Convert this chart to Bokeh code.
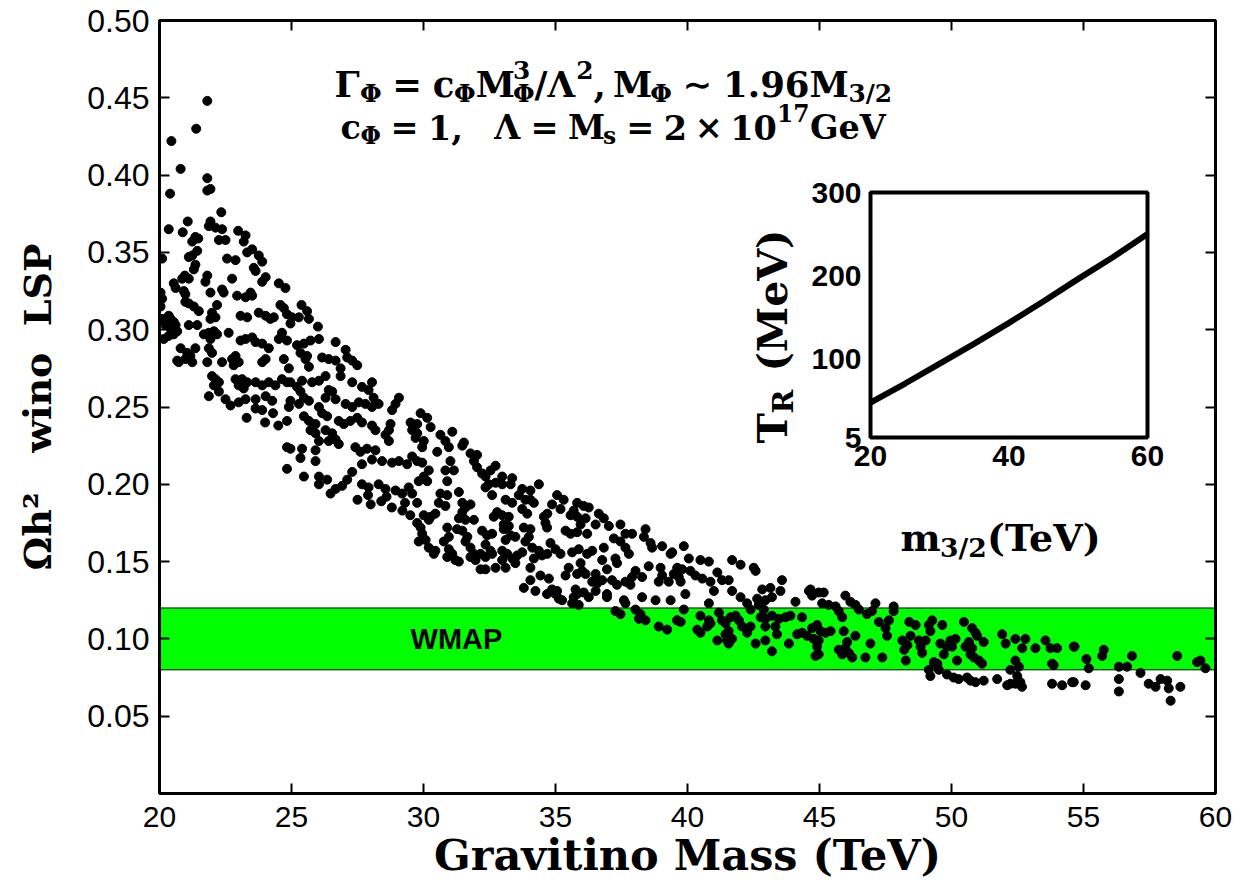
import math
from bokeh.plotting import figure
from bokeh.models import Range1d, LinearAxis, FixedTicker, CustomJSTickFormatter, NumeralTickFormatter, ColumnDataSource
from bokeh.core.properties import value, field
from bokeh.embed import file_html
from bokeh.resources import INLINE

# ---------------- data ----------------
seg_20_25 = [(21.81,0.448),(21.39,0.430),(20.45,0.422),(20.80,0.404),(21.81,0.398),(21.81,0.390),(21.93,0.391),(20.40,0.388),
 (22.34,0.376),(21.07,0.370),(21.93,0.370),(21.87,0.367),(22.12,0.366),(20.35,0.365),(20.88,0.363),(22.37,0.365),(22.98,0.364),
 (23.26,0.361),(21.36,0.360),(21.47,0.359),(21.24,0.357),(22.25,0.358),(22.50,0.358),(23.19,0.357),(23.51,0.352),(23.32,0.350),
 (21.43,0.351),(21.24,0.348),(21.11,0.347),(20.10,0.346),(22.56,0.346),(22.88,0.345),(23.76,0.348),(23.89,0.344),(21.36,0.342),
 (21.30,0.339),(23.64,0.338),(23.57,0.340),(20.96,0.335),(21.11,0.333),(20.86,0.333),(21.81,0.335),(21.74,0.331),(22.75,0.333),
 (24.02,0.334),(23.89,0.331),(20.54,0.330),(20.61,0.327),(24.52,0.330),(24.77,0.327),(20.04,0.324),(20.10,0.320),(20.92,0.325),
 (20.98,0.323),(21.93,0.324),(22.37,0.326),(22.43,0.324),(23.45,0.324),(23.51,0.322),(23.26,0.321),(22.94,0.322),(20.98,0.318),
 (21.11,0.317),(21.30,0.315),(21.49,0.312),(22.18,0.316),(24.58,0.316),(24.71,0.314),(20.04,0.315),(20.10,0.307),(20.35,0.309),
 (20.42,0.307),(20.54,0.305),(20.61,0.303),(20.67,0.299),(20.54,0.297),(20.35,0.296),(20.42,0.301),(20.23,0.303),(20.16,0.294),
 (21.99,0.311),(21.93,0.307),(22.12,0.308),(23.07,0.309),(23.32,0.308),(23.76,0.311),(24.02,0.309),(24.20,0.307),(24.33,0.308),
 (21.11,0.303),(21.43,0.303),(21.68,0.297),(21.87,0.298),(22.06,0.299),(22.18,0.297),(21.93,0.294),(22.62,0.298),(23.07,0.293),
 (23.26,0.294),(23.51,0.295),(23.64,0.292),(23.89,0.291),(24.14,0.288),(24.64,0.298),(24.52,0.294),(20.80,0.288),(21.05,0.285),
 (21.17,0.283),(20.98,0.281),(21.36,0.288),(21.87,0.288),(21.99,0.285),(20.67,0.280),(20.73,0.279),(21.24,0.279),(21.81,0.279),
 (22.37,0.279),(22.75,0.281),(22.88,0.283),(23.00,0.279),(22.81,0.277),(23.89,0.279),(24.02,0.281),(24.71,0.281),(21.99,0.270),
 (22.12,0.268),(22.25,0.266),(22.06,0.264),(22.88,0.268),(23.13,0.268),(23.32,0.266),(23.00,0.264),(23.19,0.262),(23.64,0.266),
 (23.89,0.264),(24.14,0.266),(24.39,0.264),(24.64,0.268),(24.83,0.266),(21.87,0.257),(22.25,0.260),(22.50,0.255),(22.69,0.251),
 (23.00,0.253),(23.26,0.255),(23.64,0.255),(24.02,0.257),(24.27,0.254),(23.64,0.249),(23.89,0.248),(23.30,0.243),(24.00,0.240),
 (24.50,0.238),(24.30,0.246)]

seg_25_30 = [(25.38,0.316),(25.59,0.312),(25.28,0.308),(25.66,0.307),(24.96,0.304),(24.83,0.310),(25.02,0.308),(26.00,0.302),
 (24.83,0.293),(25.21,0.290),(25.47,0.291),(25.72,0.293),(26.04,0.294),(25.34,0.285),(25.59,0.283),(25.53,0.281),(26.67,0.292),
 (26.16,0.282),(26.41,0.281),(26.67,0.280),(27.05,0.287),(27.11,0.282),(27.30,0.280),(27.49,0.277),(24.90,0.275),(25.66,0.276),
 (26.86,0.275),(26.86,0.270),(26.29,0.270),(26.04,0.267),(24.96,0.266),(25.21,0.263),(25.40,0.267),(25.78,0.266),(27.30,0.266),
 (28.05,0.266),(27.67,0.263),(26.41,0.261),(26.54,0.260),(26.29,0.256),(26.67,0.255),(25.34,0.260),(25.47,0.256),(24.96,0.254),
 (27.92,0.261),(28.11,0.256),(28.30,0.252),(29.07,0.256),(28.94,0.252),(28.81,0.248),(24.90,0.250),(25.28,0.252),(25.66,0.254),
 (26.04,0.250),(26.16,0.246),(27.05,0.252),(27.30,0.250),(27.55,0.253),(27.80,0.252),(28.05,0.250),(24.83,0.241),(25.47,0.244),
 (25.66,0.241),(25.91,0.239),(26.35,0.244),(26.79,0.241),(26.98,0.239),(27.23,0.241),(27.49,0.243),(27.67,0.240),(28.05,0.238),
 (28.18,0.235),(28.75,0.239),(28.69,0.235),(29.51,0.240),(29.57,0.235),(29.70,0.230),(25.72,0.235),(25.91,0.233),(26.04,0.228),
 (26.29,0.235),(26.54,0.233),(26.67,0.229),(26.79,0.226),(26.41,0.228),(28.56,0.232),(28.69,0.228),(24.83,0.224),(24.96,0.223),
 (25.40,0.223),(25.91,0.222),(25.34,0.217),(25.91,0.215),(27.42,0.224),(27.61,0.221),(27.86,0.223),(28.18,0.222),(29.57,0.218),
 (29.38,0.213),(29.76,0.215),(27.67,0.213),(28.05,0.216),(28.43,0.215),(28.81,0.214),(29.07,0.215),(24.83,0.210),(25.47,0.205),
 (26.04,0.205),(26.35,0.203),(26.04,0.200),(27.30,0.208),(27.11,0.203),(26.92,0.199),(26.67,0.197),(26.48,0.194),(27.67,0.200),
 (27.92,0.198),(28.30,0.200),(28.56,0.197),(28.94,0.196),(29.19,0.194),(29.44,0.198),(29.57,0.194),(27.50,0.190),(28.00,0.187),
 (28.40,0.189),(28.80,0.185),(29.20,0.183),(29.50,0.180),(29.30,0.188),(28.60,0.192),(27.90,0.193)]

seg_30_35 = [(29.89,0.246),(30.14,0.243),(30.27,0.237),(29.76,0.239),(30.64,0.232),(31.09,0.234),(30.83,0.228),(30.96,0.224),
 (31.53,0.227),(31.47,0.225),(29.76,0.233),(30.01,0.228),(29.95,0.224),(30.52,0.221),(31.02,0.215),(31.78,0.220),(32.03,0.219),
 (31.91,0.215),(32.03,0.211),(32.73,0.212),(32.54,0.209),(32.22,0.207),(32.35,0.205),(32.47,0.200),(32.35,0.198),(29.95,0.214),
 (30.20,0.209),(30.01,0.205),(29.82,0.202),(30.14,0.202),(30.83,0.209),(31.15,0.209),(30.90,0.202),(32.98,0.205),(33.36,0.204),
 (32.73,0.201),(32.98,0.200),(33.30,0.200),(34.37,0.200),(32.60,0.193),(33.74,0.197),(34.05,0.196),(33.61,0.193),(33.86,0.190),
 (34.05,0.190),(34.18,0.188),(33.11,0.190),(33.36,0.188),(29.76,0.188),(30.64,0.194),(30.90,0.193),(30.58,0.188),(30.83,0.186),
 (31.34,0.195),(31.47,0.188),(31.59,0.185),(31.78,0.187),(30.01,0.180),(30.27,0.179),(30.45,0.181),(30.20,0.177),(31.47,0.182),
 (31.34,0.178),(31.59,0.177),(31.91,0.177),(32.79,0.182),(32.66,0.179),(32.98,0.180),(33.23,0.179),(33.04,0.174),(33.74,0.184),
 (33.93,0.181),(34.56,0.179),(34.62,0.175),(29.76,0.175),(29.89,0.172),(29.95,0.168),(30.08,0.164),(29.82,0.163),(30.20,0.159),
 (30.39,0.155),(30.45,0.157),(30.90,0.172),(30.96,0.166),(30.77,0.163),(30.96,0.158),(31.09,0.155),(30.90,0.153),(31.21,0.151),
 (31.34,0.150),(31.27,0.171),(31.47,0.170),(31.66,0.166),(31.59,0.163),(31.78,0.159),(31.91,0.155),(31.78,0.153),(31.97,0.151),
 (32.22,0.170),(32.41,0.167),(32.60,0.168),(32.35,0.161),(32.54,0.157),(32.16,0.155),(32.35,0.153),(32.60,0.155),(33.04,0.171),
 (33.23,0.173),(33.30,0.167),(33.11,0.164),(33.48,0.166),(32.98,0.157),(33.17,0.155),(33.36,0.152),(33.55,0.154),(33.48,0.149),
 (32.98,0.151),(33.11,0.146),(32.73,0.146),(32.35,0.145),(32.16,0.145),(33.80,0.172),(34.05,0.171),(33.99,0.166),(33.86,0.163),
 (34.12,0.159),(33.74,0.156),(34.37,0.157),(34.49,0.154),(34.18,0.152),(34.05,0.146),(33.80,0.133),(34.05,0.138),(34.43,0.141),
 (34.24,0.131),(34.68,0.129),(34.68,0.172)]

seg_35_40 = [(35.06,0.193),(35.31,0.190),(34.87,0.187),(35.19,0.184),(34.69,0.181),(35.82,0.188),(36.07,0.186),(36.26,0.185),
 (35.69,0.183),(35.57,0.180),(35.82,0.179),(36.14,0.178),(35.95,0.174),(36.64,0.181),(36.83,0.178),(37.02,0.173),(37.46,0.174),
 (36.52,0.174),(35.57,0.168),(35.82,0.169),(36.20,0.168),(35.38,0.170),(38.41,0.171),(38.35,0.166),(37.65,0.168),(37.90,0.168),
 (37.21,0.165),(37.46,0.163),(37.65,0.159),(37.78,0.155),(34.81,0.162),(35.00,0.158),(35.19,0.155),(34.69,0.155),(35.63,0.156),
 (35.88,0.158),(36.20,0.155),(36.39,0.157),(36.83,0.159),(38.66,0.159),(38.60,0.162),(39.04,0.160),(39.36,0.155),(39.42,0.156),
 (36.77,0.151),(37.27,0.152),(37.33,0.149),(36.95,0.145),(36.52,0.142),(35.50,0.146),(35.95,0.149),(36.01,0.144),(35.82,0.142),
 (35.38,0.141),(36.14,0.142),(34.75,0.139),(34.87,0.132),(35.06,0.131),(35.13,0.126),(35.25,0.125),(35.00,0.129),(35.76,0.132),
 (35.82,0.129),(35.69,0.127),(36.07,0.130),(36.26,0.127),(35.63,0.123),(35.88,0.122),(36.39,0.137),(36.58,0.136),(36.52,0.131),
 (36.77,0.138),(36.95,0.129),(37.14,0.138),(37.33,0.135),(37.65,0.137),(37.84,0.135),(38.03,0.144),(38.28,0.140),(37.90,0.140),
 (38.53,0.147),(38.98,0.146),(39.04,0.141),(38.91,0.137),(39.29,0.137),(39.48,0.142),(36.95,0.127),(37.59,0.125),(38.28,0.127),
 (38.79,0.125),(39.36,0.125),(37.27,0.118),(37.46,0.116),(37.65,0.123),(38.03,0.119),(38.22,0.116),(38.41,0.112),(38.16,0.113),
 (38.91,0.108),(39.23,0.106),(39.61,0.112)]

seg_40_45 = [(39.86,0.160),(40.05,0.152),(40.49,0.151),(40.81,0.150),(39.61,0.146),(39.80,0.145),(40.11,0.144),(40.30,0.141),
 (40.56,0.139),(39.67,0.140),(39.74,0.137),(41.13,0.143),(40.87,0.137),(41.31,0.138),(41.56,0.138),(41.00,0.131),(41.69,0.131),
 (41.69,0.151),(42.01,0.148),(42.51,0.146),(42.58,0.144),(39.92,0.129),(42.01,0.127),(42.26,0.123),(42.64,0.126),(42.83,0.132),
 (43.14,0.133),(43.58,0.138),(43.52,0.131),(43.20,0.127),(42.95,0.125),(42.70,0.122),(42.89,0.119),(42.39,0.119),(44.09,0.124),
 (44.60,0.131),(40.81,0.123),(39.86,0.119),(39.61,0.112),(39.74,0.111),(40.49,0.115),(40.81,0.112),(40.75,0.108),(40.87,0.110),
 (41.19,0.117),(41.31,0.112),(41.63,0.114),(41.82,0.115),(41.95,0.112),(41.44,0.110),(41.56,0.105),(42.07,0.108),(42.26,0.104),
 (42.39,0.108),(40.37,0.106),(40.49,0.104),(41.44,0.103),(41.50,0.099),(41.69,0.100),(41.13,0.099),(41.56,0.097),(42.77,0.114),
 (42.95,0.113),(43.20,0.115),(43.46,0.113),(43.71,0.114),(43.90,0.115),(44.34,0.114),(42.58,0.097),(42.95,0.099),(43.20,0.092),
 (43.39,0.103),(43.84,0.097),(44.15,0.103),(44.34,0.104),(42.95,0.108),(43.33,0.108)]

seg_45_50 = [(44.66,0.132),(44.97,0.130),(45.16,0.130),(44.72,0.128),(45.98,0.128),(46.17,0.124),(46.36,0.122),(46.49,0.119),
 (47.12,0.123),(46.99,0.118),(46.80,0.116),(47.81,0.121),(47.81,0.118),(45.10,0.123),(45.35,0.122),(45.61,0.121),(45.73,0.118),
 (45.86,0.114),(44.91,0.109),(44.72,0.107),(45.04,0.105),(45.23,0.104),(45.42,0.105),(44.53,0.102),(44.78,0.100),(44.97,0.099),
 (44.91,0.095),(44.97,0.090),(44.85,0.089),(45.92,0.105),(46.36,0.102),(46.05,0.098),(45.98,0.094),(45.73,0.093),(46.11,0.091),
 (46.24,0.088),(45.86,0.090),(46.93,0.097),(46.74,0.088),(47.38,0.088),(47.25,0.111),(47.50,0.107),(47.56,0.102),(47.63,0.112),
 (48.14,0.099),(48.21,0.093),(48.33,0.096),(48.27,0.086),(48.40,0.111),(48.64,0.109),(48.45,0.102),(48.77,0.099),(48.83,0.095),
 (48.89,0.091),(49.02,0.099),(49.14,0.109),(49.27,0.112),(49.20,0.105),(49.14,0.080),(49.33,0.085),(49.20,0.076),(49.46,0.083)]

seg_50_55 = [(49.65,0.109),(50.47,0.111),(50.78,0.107),(50.91,0.104),(50.97,0.102),(49.58,0.097),(49.96,0.099),(50.15,0.100),
 (49.83,0.095),(50.02,0.095),(49.71,0.090),(49.46,0.084),(50.21,0.086),(50.66,0.098),(50.53,0.095),(50.78,0.094),(50.72,0.090),
 (50.85,0.088),(51.04,0.086),(51.16,0.084),(51.22,0.098),(51.92,0.103),(52.05,0.097),(52.42,0.100),(52.80,0.100),(52.68,0.094),
 (52.42,0.086),(52.55,0.082),(53.56,0.099),(53.75,0.094),(54.00,0.094),(53.18,0.094),(53.81,0.084),(53.87,0.083),(54.63,0.095),
 (49.52,0.080),(49.83,0.077),(50.08,0.075),(50.27,0.074),(50.59,0.075),(50.72,0.073),(50.91,0.072),(51.22,0.073),(51.73,0.074),
 (52.11,0.070),(52.23,0.071),(52.42,0.071),(52.61,0.072),(52.67,0.069),(53.81,0.071),(54.19,0.070),(54.57,0.072),(52.23,0.080),
 (52.49,0.076)]

seg_55_60 = [(54.66,0.095),(55.11,0.087),(55.20,0.081),(55.71,0.089),(55.77,0.093),(56.34,0.082),(56.65,0.082),(56.84,0.089),
 (57.16,0.078),(58.55,0.089),(59.30,0.085),(59.43,0.086),(59.62,0.081),(54.63,0.072),(55.08,0.070),(56.34,0.074),(56.34,0.066),
 (57.47,0.071),(57.73,0.069),(57.92,0.074),(58.17,0.073),(58.23,0.068),(58.30,0.060),(58.67,0.069)]

segments = [seg_20_25, seg_25_30, seg_30_35, seg_35_40, seg_40_45, seg_45_50, seg_50_55, seg_55_60]
gravitino_mass = [m for s in segments for m, _ in s]
omega_h2 = [o for s in segments for _, o in s]

wmap_low, wmap_high = 0.08, 0.12
x_ticks = [20, 25, 30, 35, 40, 45, 50, 55, 60]
y_ticks = [0.05, 0.10, 0.15, 0.20, 0.25, 0.30, 0.35, 0.40, 0.45, 0.50]

inset_mass = [20, 25, 30, 35, 40, 45, 50, 55, 60]
inset_tr = [47, 70, 94, 118, 143, 169, 196, 222, 250]
inset_x_ticks = [20, 40, 60]
inset_y_ticks = [5, 100, 200, 300]

# ---------------- layout ----------------
W_TOTAL, H_TOTAL = 1239, 890
FRAME_L, FRAME_T, FRAME_W, FRAME_H = 159, 20, 1056, 773
X0, X1, Y0, Y1 = 20.0, 60.0, 0.0, 0.5

def px_x(px):
    return X0 + (px - FRAME_L) * (X1 - X0) / FRAME_W

def px_y(py):
    return Y1 - (py - FRAME_T) * (Y1 - Y0) / FRAME_H

p = figure(frame_width=FRAME_W, frame_height=FRAME_H,
           x_range=Range1d(X0, X1), y_range=Range1d(Y0, Y1),
           output_backend="svg", toolbar_location=None,
           min_border_left=FRAME_L, min_border_top=FRAME_T,
           min_border_right=W_TOTAL - FRAME_L - FRAME_W,
           min_border_bottom=H_TOTAL - FRAME_T - FRAME_H,
           background_fill_color="white", border_fill_color="white")
p.grid.visible = False
p.outline_line_color = "black"
p.outline_line_width = 3

def style_axis(ax, ticks):
    ax.ticker = FixedTicker(ticks=ticks)
    ax.axis_line_width = 3
    ax.axis_line_color = "black"
    ax.major_tick_in = 10
    ax.major_tick_out = 0
    ax.major_tick_line_width = 2
    ax.major_tick_line_color = "black"
    ax.minor_tick_line_color = None

xa = p.xaxis[0]
ya = p.yaxis[0]
style_axis(xa, x_ticks)
style_axis(ya, y_ticks)
xa.major_label_text_font = "Liberation Sans"
xa.major_label_text_font_size = "30px"
xa.major_label_text_color = "black"
xa.major_label_standoff = 13
xa.axis_label = "Gravitino Mass (TeV)"
xa.axis_label_text_font = "DejaVu Serif"
xa.axis_label_text_font_style = "bold"
xa.axis_label_text_font_size = "43px"
xa.axis_label_text_color = "black"
xa.axis_label_standoff = 0

ya.formatter = NumeralTickFormatter(format="0.00")
ya.major_label_text_font = "Liberation Sans"
ya.major_label_text_font_size = "32px"
ya.major_label_text_color = "black"
ya.major_label_standoff = 10
ya.axis_label = "\u03a9h\u00b2\u00a0\u00a0\u00a0wino\u00a0\u00a0LSP"
ya.axis_label_text_font = "DejaVu Serif"
ya.axis_label_text_font_style = "bold"
ya.axis_label_text_font_size = "38px"
ya.axis_label_text_color = "black"
ya.axis_label_standoff = 24

for side, ticks in (("right", y_ticks), ("above", x_ticks)):
    ax = LinearAxis(formatter=CustomJSTickFormatter(code="return ''"), major_label_standoff=0)
    style_axis(ax, ticks)
    p.add_layout(ax, side)

# WMAP band and scatter
p.quad(left=[X0], right=[X1], bottom=[wmap_low], top=[wmap_high],
       fill_color="#00ff00", line_color="black", line_width=1)
p.scatter(gravitino_mass, omega_h2, size=9, color="black")
p.text(x=[px_x(456)], y=[(wmap_low + wmap_high) / 2], text=["WMAP"],
       text_align="center", text_baseline="middle",
       text_font=value("Liberation Sans"), text_font_style="bold",
       text_font_size="29px", text_color="black")

# ---------------- math-like text helper ----------------
EM = {'\u0393': .72, '\u03a6': .87, '\u039b': .80, 'M': 1.05, 'c': .60, 's': .59, 'G': .84, 'e': .64,
      'V': .80, '.': .38, ',': .38, '/': .37, '=': .84, '\u223c': .84, '\u00d7': .84, '(': .47,
      ')': .47, 'T': .73, 'R': .82, 'm': 1.04}

def em_width(s):
    return sum(EM.get(ch, .70) for ch in s)

SERIF = "DejaVu Serif"

def math_runs(runs, left_px, base_px, size, rotated=False):
    xs, ys, txt, fs = [], [], [], []
    cur = 0.0
    small = 0.7 * size
    def add(t, along, across, s):
        if rotated:
            xs.append(base_px + across)
            ys.append(left_px - along)
        else:
            xs.append(left_px + along)
            ys.append(base_px + across)
        txt.append(t)
        fs.append("%.1fpx" % s)
    for t, role in runs:
        if role == "gap":
            cur += t * size
        elif role == "m":
            add(t, cur, 0, size); cur += em_width(t) * size
        elif role == "sub":
            add(t, cur, 0.25 * size, small); cur += em_width(t) * small
        elif role == "sup":
            add(t, cur, -0.42 * size, small); cur += em_width(t) * small
        elif role == "supsub":
            add(t[0], cur, -0.42 * size, small); add(t[1], cur, 0.25 * size, small)
            cur += max(em_width(t[0]), em_width(t[1])) * small
    return xs, ys, txt, fs

def draw_runs(runs, left_px, base_px, size, rotated=False, xr=None, yr=None, fx=None, fy=None):
    xs, ys, txt, fs = math_runs(runs, left_px, base_px, size, rotated)
    fx = fx or px_x
    fy = fy or px_y
    src = ColumnDataSource(dict(x=[fx(v) for v in xs], y=[fy(v) for v in ys], t=txt, fs=fs))
    kw = {}
    if xr:
        kw = dict(x_range_name=xr, y_range_name=yr)
    p.text(x="x", y="y", text="t", source=src, text_font_size=field("fs"),
           text_font=value(SERIF), text_font_style="bold", text_color="black",
           text_baseline="alphabetic", text_align="left",
           angle=(math.pi / 2 if rotated else 0), **kw)

PHI, GAM, LAM = '\u03a6', '\u0393', '\u039b'
line1 = [(GAM, "m"), (PHI, "sub"), (.3, "gap"), ("=", "m"), (.3, "gap"), ("c", "m"), (PHI, "sub"),
         ("M", "m"), (("3", PHI), "supsub"), ("/" + LAM, "m"), ("2", "sup"), (",", "m"), (.17, "gap"),
         ("M", "m"), (PHI, "sub"), (.3, "gap"), ("\u223c", "m"), (.3, "gap"), ("1.96M", "m"), ("3/2", "sub")]
line2 = [("c", "m"), (PHI, "sub"), (.28, "gap"), ("=", "m"), (.28, "gap"), ("1,", "m"), (.9, "gap"),
         (LAM, "m"), (.28, "gap"), ("=", "m"), (.28, "gap"), ("M", "m"), ("s", "sub"), (.28, "gap"),
         ("=", "m"), (.28, "gap"), ("2", "m"), (.22, "gap"), ("\u00d7", "m"), (.22, "gap"), ("10", "m"),
         ("17", "sup"), ("GeV", "m")]
draw_runs(line1, 334, 84, 35.5)
draw_runs(line2, 340, 127, 33.5)

# ---------------- inset (drawn through extra ranges) ----------------
IN_L, IN_R, IN_T, IN_B = 870, 1147, 192, 437
ix_scale = (IN_R - IN_L) / (inset_x_ticks[-1] - inset_x_ticks[0])
iy_scale = (IN_B - IN_T) / (inset_y_ticks[-1] - inset_y_ticks[0])
ix_start = inset_x_ticks[0] - (IN_L - FRAME_L) / ix_scale
ix_end = inset_x_ticks[-1] + (FRAME_L + FRAME_W - IN_R) / ix_scale
iy_start = inset_y_ticks[0] - (FRAME_T + FRAME_H - IN_B) / iy_scale
iy_end = inset_y_ticks[-1] + (IN_T - FRAME_T) / iy_scale
p.extra_x_ranges = {"ix": Range1d(ix_start, ix_end)}
p.extra_y_ranges = {"iy": Range1d(iy_start, iy_end)}

def ipx_x(px):
    return inset_x_ticks[0] + (px - IN_L) / ix_scale

def ipx_y(py):
    return inset_y_ticks[0] + (IN_B - py) / iy_scale

p.quad(left=[inset_x_ticks[0]], right=[inset_x_ticks[-1]], bottom=[inset_y_ticks[0]], top=[inset_y_ticks[-1]],
       x_range_name="ix", y_range_name="iy", fill_color="white", line_color="black", line_width=4)
p.line(inset_mass, inset_tr, x_range_name="ix", y_range_name="iy", line_color="black", line_width=6)

p.text(x=inset_x_ticks, y=[inset_y_ticks[0]] * len(inset_x_ticks), text=[str(v) for v in inset_x_ticks],
       x_range_name="ix", y_range_name="iy", text_align="center", text_baseline="top", y_offset=8,
       text_font=value("Liberation Sans"), text_font_style="bold", text_font_size="30px", text_color="black")
p.text(x=[inset_x_ticks[0]] * len(inset_y_ticks), y=inset_y_ticks, text=[str(v) for v in inset_y_ticks],
       x_range_name="ix", y_range_name="iy", text_align="right", text_baseline="middle", x_offset=-9,
       text_font=value("Liberation Sans"), text_font_style="bold", text_font_size="30px", text_color="black")

draw_runs([("T", "m"), ("R", "sub"), (.45, "gap"), ("(MeV)", "m")], 443, 772, 41, rotated=True,
          xr="ix", yr="iy", fx=ipx_x, fy=ipx_y)
draw_runs([("m", "m"), ("3/2", "sub"), ("(TeV)", "m")], 900, 537, 38,
          xr="ix", yr="iy", fx=ipx_x, fy=ipx_y)

open("out.html", "w").write(file_html(p, INLINE))
